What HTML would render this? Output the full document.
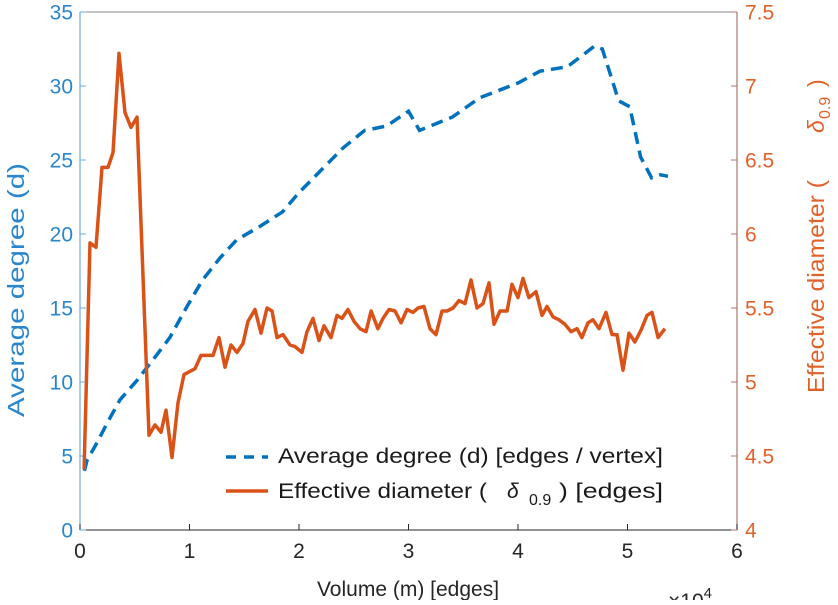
<!DOCTYPE html>
<html><head><meta charset="utf-8"><style>
body{margin:0;background:#fff;}
svg{font-family:"Liberation Sans",sans-serif;}
</style></head><body>
<svg id="chart" width="838" height="600">
<g id="axes"></g>
<g id="series"></g>
</svg>
<script>
const degX=[0.04,0.064,0.155,0.247,0.365,0.52,0.667,0.82,0.977,1.12,1.28,1.43,1.64,1.85,2.0,2.2,2.4,2.6,2.8,3.0,3.1,3.4,3.65,4.0,4.2,4.45,4.7,4.77,4.92,5.02,5.12,5.22,5.3,5.37];
const degY=[4.0,4.7,5.9,7.2,8.8,10.1,11.5,13,15.1,16.9,18.4,19.6,20.5,21.5,22.8,24.3,25.8,27,27.3,28.3,27.0,27.9,29.2,30.2,31.0,31.3,32.7,32.5,29.0,28.6,25.2,23.8,24.0,23.9];
const diaX=[0.037,0.091,0.146,0.201,0.256,0.301,0.356,0.411,0.466,0.521,0.630,0.685,0.740,0.785,0.840,0.895,0.950,1.050,1.105,1.215,1.269,1.324,1.379,1.434,1.489,1.534,1.598,1.653,1.708,1.753,1.799,1.854,1.918,1.963,2.027,2.073,2.128,2.183,2.228,2.292,2.347,2.393,2.447,2.502,2.557,2.612,2.658,2.721,2.767,2.822,2.877,2.932,2.986,3.041,3.087,3.142,3.196,3.251,3.306,3.352,3.406,3.461,3.516,3.571,3.626,3.680,3.735,3.781,3.836,3.900,3.945,4.000,4.046,4.100,4.164,4.219,4.265,4.320,4.374,4.429,4.484,4.539,4.584,4.639,4.685,4.740,4.804,4.858,4.904,4.959,5.014,5.068,5.123,5.178,5.224,5.279,5.342];
const diaY=[4.41,5.94,5.91,6.45,6.45,6.55,7.22,6.82,6.72,6.79,4.64,4.71,4.66,4.81,4.49,4.86,5.05,5.09,5.18,5.18,5.30,5.10,5.25,5.20,5.26,5.41,5.49,5.33,5.50,5.48,5.30,5.32,5.25,5.24,5.20,5.34,5.43,5.28,5.38,5.30,5.45,5.43,5.49,5.41,5.36,5.34,5.48,5.36,5.43,5.49,5.48,5.40,5.49,5.47,5.50,5.51,5.36,5.32,5.48,5.48,5.50,5.55,5.53,5.69,5.50,5.53,5.67,5.39,5.48,5.48,5.66,5.57,5.70,5.57,5.61,5.45,5.51,5.44,5.42,5.39,5.34,5.36,5.30,5.40,5.42,5.36,5.47,5.32,5.32,5.08,5.33,5.27,5.35,5.45,5.47,5.30,5.36];
const xTicks=[0,1,2,3,4,5,6];
const yLTicks=[0,5,10,15,20,25,30,35];
const yRTicks=[4,4.5,5,5.5,6,6.5,7,7.5];

const X0=80,X1=737,Y0=530,Y1=12;
const sx=v=>X0+(v-0)/6*(X1-X0);
const syL=v=>Y0-(v/35)*(Y0-Y1);
const syR=v=>Y0-((v-4)/3.5)*(Y0-Y1);
const NS='http://www.w3.org/2000/svg';
const axes=document.getElementById('axes'), ser=document.getElementById('series');
function mk(tag,attrs,parent,text){const e=document.createElementNS(NS,tag);for(const k in attrs)e.setAttribute(k,attrs[k]);if(text!==undefined)e.textContent=text;parent.appendChild(e);return e;}
const BLUE='#0072bd',LBLUE='#2a86cc',ORANGE='#d95319',LORANGE='#e0622a',GRAY='#262626';

let e;
e=mk('line',{x1:X0,y1:Y1,x2:X1,y2:Y1,stroke:'#8a8a8a','stroke-width':1},axes);

e=mk('line',{x1:X0,y1:Y0,x2:X1,y2:Y0,stroke:GRAY,'stroke-width':1},axes);

e=mk('line',{x1:X0,y1:Y0,x2:X0,y2:Y1,stroke:'#6aaee0','stroke-width':1.2},axes);

e=mk('line',{x1:X1,y1:Y0,x2:X1,y2:Y1,stroke:'#a8786a','stroke-width':1.2},axes);


xTicks.forEach(t=>{const x=sx(t);
 mk('line',{x1:x,y1:Y0,x2:x,y2:Y0-6,stroke:GRAY},axes);
 e=mk('text',{x:x,y:Y0+28,'font-size':21,fill:GRAY,'text-anchor':'middle'},axes,String(t));
 });
yLTicks.forEach(t=>{const y=syL(t);
 mk('line',{x1:X0,y1:y,x2:X0+6,y2:y,stroke:'#6aaee0'},axes);
 e=mk('text',{x:X0-7,y:y+7.5,'font-size':21,fill:LBLUE,'text-anchor':'end'},axes,String(t));
 });
yRTicks.forEach(t=>{const y=syR(t);
 mk('line',{x1:X1,y1:y,x2:X1-6,y2:y,stroke:'#a8786a'},axes);
 e=mk('text',{x:X1+8,y:y+7.5,'font-size':21,fill:LORANGE,'text-anchor':'start'},axes,String(t));
 });

e=mk('text',{x:0,y:0,'font-size':23,fill:LBLUE,textLength:254,lengthAdjust:'spacingAndGlyphs',transform:'translate(24,417) rotate(-90)'},axes,'Average degree (d)');

const rt=mk('g',{transform:'translate(824,393) rotate(-90)'},axes);

mk('text',{x:0,y:0,'font-size':23,fill:LORANGE,textLength:213,lengthAdjust:'spacingAndGlyphs'},rt,'Effective diameter (');
mk('text',{x:260,y:0,'font-size':23,fill:LORANGE,'font-style':'italic'},rt,'δ');
mk('text',{x:274,y:6,'font-size':16,fill:LORANGE},rt,'0.9');
mk('text',{x:306,y:0,'font-size':23,fill:LORANGE},rt,')');
e=mk('text',{x:408,y:596,'font-size':21,fill:GRAY,'text-anchor':'middle'},axes,'Volume (m) [edges]');

e=mk('text',{x:668,y:608,'font-size':21,fill:GRAY},axes);

e.innerHTML='×10<tspan font-size="15" dy="-10">4</tspan>';

function pts(xs,ys,fy){return xs.map((x,i)=>sx(x).toFixed(1)+','+fy(ys[i]).toFixed(1)).join(' ');}
e=mk('polyline',{points:pts(degX,degY,syL),fill:'none',stroke:BLUE,'stroke-width':3.5,'stroke-dasharray':'12,7'},ser);

e=mk('polyline',{points:pts(diaX,diaY,syR),fill:'none',stroke:ORANGE,'stroke-width':3.5,'stroke-linejoin':'round'},ser);


const lg=mk('g',{},ser);

mk('line',{x1:226,y1:457,x2:268,y2:457,stroke:BLUE,'stroke-width':3.5,'stroke-dasharray':'10,8'},lg);
e=mk('text',{x:278,y:463,'font-size':21,fill:'#1a1a1a',textLength:385,lengthAdjust:'spacingAndGlyphs'},lg,'Average degree (d) [edges / vertex]');

mk('line',{x1:226,y1:491,x2:268,y2:491,stroke:ORANGE,'stroke-width':3.5},lg);
const l2=mk('g',{},lg);

mk('text',{x:278,y:498,'font-size':21,fill:'#1a1a1a',textLength:209,lengthAdjust:'spacingAndGlyphs'},l2,'Effective diameter (');
mk('text',{x:507,y:498,'font-size':21,fill:'#1a1a1a','font-style':'italic'},l2,'δ');
mk('text',{x:529,y:505,'font-size':16,fill:'#1a1a1a'},l2,'0.9');
mk('text',{x:559,y:498,'font-size':21,fill:'#1a1a1a',textLength:104,lengthAdjust:'spacingAndGlyphs'},l2,') [edges]');
</script>
</body></html>
